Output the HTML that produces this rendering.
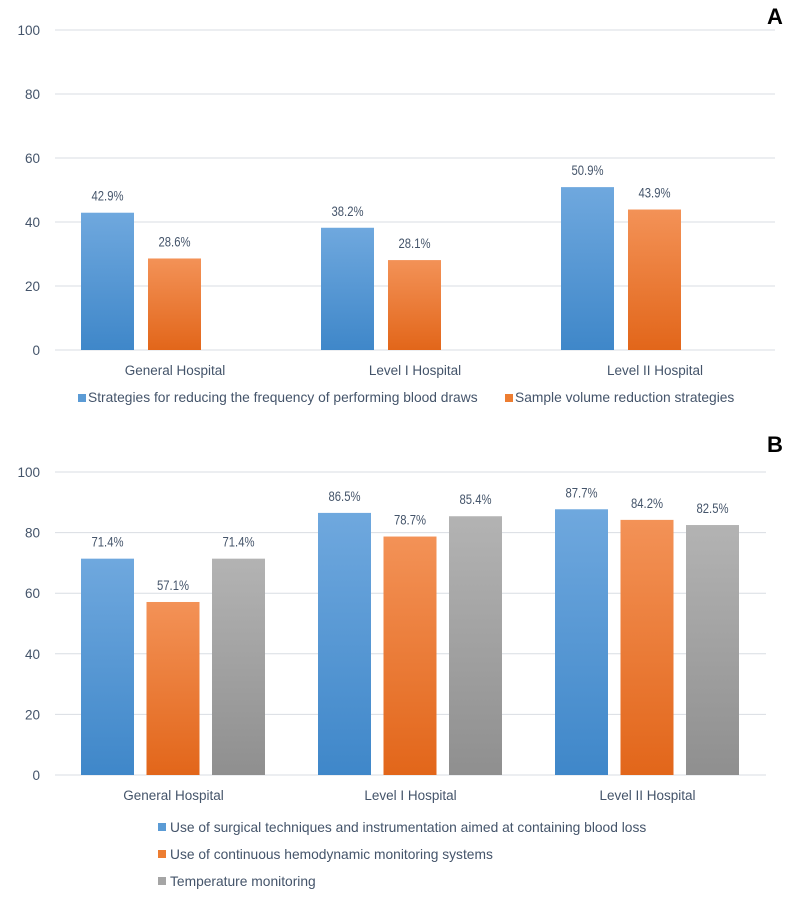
<!DOCTYPE html>
<html><head><meta charset="utf-8">
<style>
body{margin:0;background:#fff;width:800px;height:915px;overflow:hidden;}
svg text{font-family:"Liberation Sans",sans-serif;fill:#44546a;}
</style></head>
<body>
<svg id="chart" width="800" height="915">
<defs>
<linearGradient id="gb" x1="0" y1="0" x2="0" y2="1"><stop offset="0" stop-color="#6fa8de"/><stop offset="1" stop-color="#3f87c9"/></linearGradient>
<linearGradient id="go" x1="0" y1="0" x2="0" y2="1"><stop offset="0" stop-color="#f39257"/><stop offset="1" stop-color="#e2661a"/></linearGradient>
<linearGradient id="gg" x1="0" y1="0" x2="0" y2="1"><stop offset="0" stop-color="#b3b3b3"/><stop offset="1" stop-color="#8f8f8f"/></linearGradient>
</defs>
<text x="767" y="24" font-size="22" font-weight="bold" style="fill:#000">A</text>
<text x="767" y="452" font-size="22" font-weight="bold" style="fill:#000">B</text>
</svg>
<script>
const categories = ["General Hospital","Level I Hospital","Level II Hospital"];
const ticks = [0,20,40,60,80,100];
const seriesA1 = [42.9,38.2,50.9];
const seriesA2 = [28.6,28.1,43.9];
const seriesB1 = [71.4,86.5,87.7];
const seriesB2 = [57.1,78.7,84.2];
const seriesB3 = [71.4,85.4,82.5];
const namesA = ["Strategies for reducing the frequency of performing blood draws","Sample volume reduction strategies"];
const namesB = ["Use of surgical techniques and instrumentation aimed at containing blood loss","Use of continuous hemodynamic monitoring systems","Temperature monitoring"];

const svg = document.getElementById('chart');
const NS = 'http://www.w3.org/2000/svg';
function mk(tag, attrs, parent){const e=document.createElementNS(NS,tag);for(const k in attrs)e.setAttribute(k,attrs[k]);(parent||svg).appendChild(e);return e;}

function panel(id, y0, y100, x0, x1, seriesList, fills, slotW, groupOffset){
  const yS = v => y0 + (y100 - y0) * v / 100;
  const catW = (x1 - x0) / categories.length;
  ticks.forEach(t=>{
    const l = mk('line',{x1:x0,x2:x1,y1:yS(t),y2:yS(t),stroke:'#d9dde3','stroke-width':1});
    
    
    const tx = mk('text',{x:40,y:yS(t)+5,'font-size':13.5,'text-anchor':'end'});
    tx.textContent = t;
    
    
  });
  categories.forEach((c,i)=>{
    const cx = x0 + catW*(i+0.5);
    const tx = mk('text',{x:cx,y:y0+25,'font-size':13.5,'text-anchor':'middle'});
    tx.textContent = c;
    
    
    seriesList.forEach((s,j)=>{
      const bx = x0 + catW*i + groupOffset + j*slotW;
      const by = yS(s[i]);
      const r = mk('rect',{x:bx,y:by,width:53,height:y0-by,fill:fills[j]});
      
      
      const lt = mk('text',{x:bx+26.5,y:by-12,'font-size':13.5,'text-anchor':'middle',textLength:32,lengthAdjust:'spacingAndGlyphs'});
      lt.textContent = s[i].toFixed(1)+'%';
      
      
    });
  });
}
panel('a', 350, 30, 55, 775, [seriesA1,seriesA2], ['url(#gb)','url(#go)'], 67, 26);
panel('b', 775, 472, 55, 766, [seriesB1,seriesB2,seriesB3], ['url(#gb)','url(#go)','url(#gg)'], 65.5, 26);

const legA = [[78,402],[505,402]];
const colors = ['#5b9bd5','#ed7d31','#a5a5a5'];
namesA.forEach((n,j)=>{
  const r = mk('rect',{x:legA[j][0],y:legA[j][1]-8,width:8,height:8,fill:colors[j]});
  
  
  const t = mk('text',{x:legA[j][0]+10,y:legA[j][1],'font-size':13.8});
  t.textContent = n;
  
  
});
namesB.forEach((n,j)=>{
  const y = 832 + j*27;
  const r = mk('rect',{x:158,y:y-9,width:8,height:8,fill:colors[j]});
  
  
  const t = mk('text',{x:170,y:y,'font-size':13.8});
  t.textContent = n;
  
  
});
</script>
</body></html>
